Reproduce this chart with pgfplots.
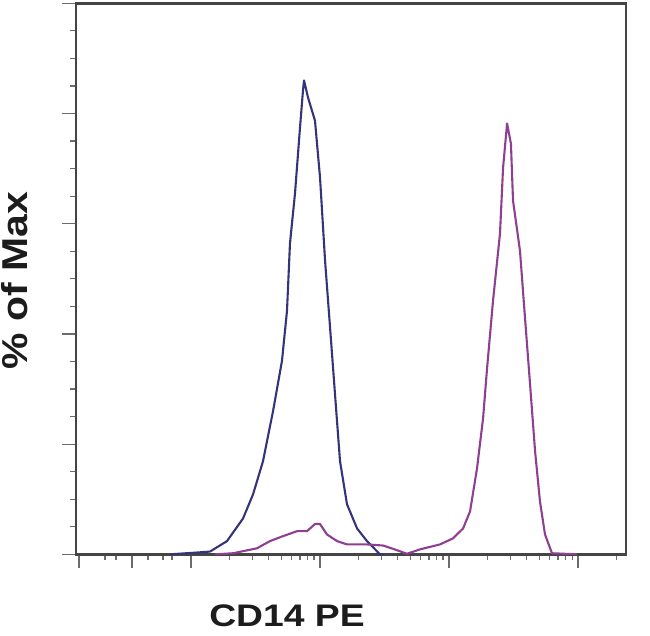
\documentclass[border=0pt]{standalone}
\usepackage{pgfplots}
\pgfplotsset{compat=1.18}
\usepackage{fontspec}
\setmainfont{Liberation Sans}
\definecolor{cdblue}{HTML}{35337A}
\definecolor{cdpink}{HTML}{8E3F91}
\definecolor{axgray}{HTML}{454545}
\definecolor{txt}{HTML}{1C1C1C}
\begin{document}
\begin{tikzpicture}
\begin{axis}[
    scale only axis,
    width=550bp, height=551bp,
    xmin=1.1085, xmax=5.372,
    ymin=0, ymax=100,
    axis line style={axgray, line width=2.6bp},
    tick align=outside,
    xtick pos=left, ytick pos=left,
    xtick={1.132,1.543,2,3,4,5},
    minor xtick={1.333,1.419,1.667,1.783,1.853,
        2.301,2.477,2.602,2.699,2.778,2.845,2.903,2.954,
        3.301,3.477,3.602,3.699,3.778,3.845,3.903,3.954,
        4.301,4.477,4.602,4.699,4.778,4.845,4.903,4.954,
        5.301},
    ytick={0,20,40,60,80,100},
    minor y tick num=3,
    xticklabels={}, yticklabels={},
    major tick length=14bp, minor tick length=6bp,
    every tick/.style={gray!85!black, line width=1.2bp},
    xlabel={\scalebox{1.1}[0.92]{\fontsize{34}{34}\selectfont\bfseries CD14 PE}},
    xlabel style={txt, at={(axis description cs:0.3836,-0.1116)}, anchor=center, inner sep=0pt},
    ylabel={\scalebox{1.08}[0.95]{\fontsize{38}{38}\selectfont\bfseries \% of Max}},
    ylabel style={txt, at={(axis description cs:-0.111,0.497)}, anchor=center, inner sep=0pt},
]
% unstained population (blue)
\addplot[cdblue, line width=2.1bp, no markers, line join=round] coordinates {
(1.837,0) (2.030,0.3) (2.147,0.5) (2.279,2.4) (2.403,6.5) (2.481,10.9)
(2.558,16.9) (2.636,26.0) (2.705,35.1) (2.744,44.2) (2.767,56.4)
(2.806,65.5) (2.845,77.5) (2.868,84.2) (2.876,86.0) (2.907,82.9)
(2.961,78.7) (3.000,68.4) (3.039,53.3) (3.078,41.1) (3.116,29.1)
(3.155,16.9) (3.209,9.1) (3.287,4.7) (3.364,2.4) (3.465,0) (3.500,0)
};
% CD14 PE stained population (purple)
\addplot[cdpink, line width=2.1bp, no markers, line join=round] coordinates {
(2.186,0) (2.326,0.2) (2.512,1.1) (2.612,2.4) (2.713,3.3) (2.822,4.2)
(2.899,4.2) (2.961,5.5) (3.000,5.5) (3.054,3.6) (3.132,2.4) (3.209,1.8)
(3.364,1.8) (3.488,1.6) (3.566,1.0) (3.674,0.1) (3.775,0.9) (3.930,1.8)
(4.031,2.9) (4.109,4.7) (4.163,7.8) (4.217,15.6) (4.264,24.7) (4.295,33.8)
(4.341,46.0) (4.395,58.2) (4.419,70.2) (4.450,78.2) (4.480,74.5)
(4.496,64.2) (4.550,55.1) (4.589,42.9) (4.628,30.9) (4.667,18.7)
(4.705,9.6) (4.744,3.6) (4.798,0.2) (4.992,0)
};
\coordinate (bbl) at (axis description cs:-0.1382,-0.147);
\coordinate (btr) at (axis description cs:1.0436,1.0036);
\end{axis}
\path (bbl) rectangle (btr);
\end{tikzpicture}
\end{document}
